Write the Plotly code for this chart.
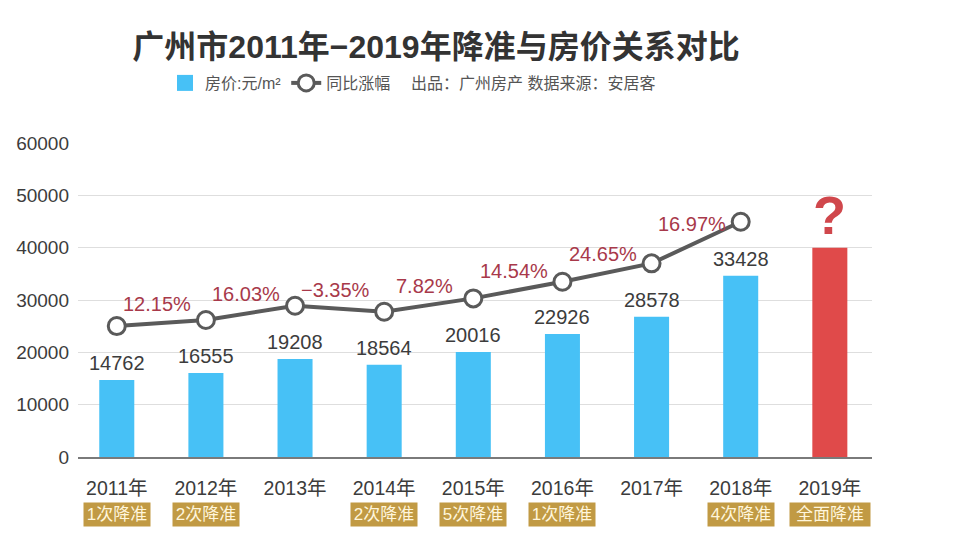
import plotly.graph_objects as go

# ---- data ----
years = ["2011年", "2012年", "2013年", "2014年", "2015年", "2016年", "2017年", "2018年", "2019年"]
bar_height = [14710, 16050, 18720, 17630, 20060, 23500, 26800, 34630, 39980]
bar_label = ["14762", "16555", "19208", "18564", "20016", "22926", "28578", "33428", "?"]
line_level = [25020, 26170, 28900, 27760, 30310, 33490, 37000, 44950]
growth_label = ["12.15%", "16.03%", "−3.35%", "7.82%", "14.54%", "24.65%", "16.97%"]
rrr_label = ["1次降准", "2次降准", "", "2次降准", "5次降准", "1次降准", "", "4次降准", "全面降准"]
y_ticks = [0, 10000, 20000, 30000, 40000, 50000, 60000]

BLUE = "#47c1f6"
RED = "#e04a4a"
LINE = "#5a5a5a"
PCT = "#a8394a"
GOLD = "#c19a44"
FONT = "Liberation Sans, Arial, Noto Sans CJK SC, sans-serif"

# page body adds an 8px margin; figure is sized so it fills the window exactly
OFF = 8
W, H = 956 - OFF, 544 - OFF
ML, MR, MT, MB = 78 - OFF, 84, 143 - OFF, 87


def cx(px):
    return (px - OFF) / W


def cy(py):
    return 1 - (py - OFF) / H


colors = [BLUE] * (len(years) - 1) + [RED]

fig = go.Figure()
fig.add_trace(go.Bar(
    x=years, y=bar_height, name="房价:元/m²", showlegend=False,
    marker=dict(color=colors, line=dict(width=0)),
    width=0.393, hoverinfo="skip",
))
# legend entry for the bars (larger square swatch, no data)
fig.add_trace(go.Scatter(
    x=[None], y=[None], name="房价:元/m²", mode="markers",
    marker=dict(symbol="square", size=16, color=BLUE),
))
fig.add_trace(go.Scatter(
    x=years[:len(line_level)], y=line_level, name="同比涨幅",
    mode="lines+markers",
    line=dict(color=LINE, width=4),
    marker=dict(symbol="circle", size=17, color="white", line=dict(color=LINE, width=3)),
    hoverinfo="skip",
))

annotations = []
# bar value labels
for i, (v, t) in enumerate(zip(bar_height, bar_label)):
    if t == "?":
        annotations.append(dict(x=i, y=v, xref="x", yref="y", text="<b>?</b>", showarrow=False,
                                yanchor="bottom", yshift=1,
                                font=dict(family=FONT, size=54, color="#d0474c")))
    else:
        annotations.append(dict(x=i, y=v, xref="x", yref="y", text=t, showarrow=False,
                                yanchor="bottom", yshift=4,
                                font=dict(family=FONT, size=20, color="#3c3c3c")))
# growth labels between points
for i, t in enumerate(growth_label):
    ymid = (line_level[i] + line_level[i + 1]) / 2
    annotations.append(dict(x=i + 0.5, y=ymid, xref="x", yref="y", text=t, showarrow=False,
                            yanchor="middle", yshift=19, xshift=-4,
                            font=dict(family=FONT, size=20, color=PCT)))
# RRR boxes under axis
for i, t in enumerate(rrr_label):
    if not t:
        continue
    annotations.append(dict(x=i, y=0, xref="x", yref="paper", text=t, showarrow=False,
                            yanchor="middle", yshift=-57,
                            bgcolor=GOLD, borderpad=2,
                            width=76 if not t[0].isdigit() else 62,
                            font=dict(family=FONT, size=17, color="#fff6dc")))
# attribution (paper coordinates computed from pixel position)
pw, ph = W - ML - MR, H - MT - MB
annotations.append(dict(x=(409 - OFF - ML) / pw, y=(H - (83 - OFF) - MB) / ph,
                        xref="paper", yref="paper",
                        text="出品：广州房产 数据来源：安居客", showarrow=False,
                        xanchor="left", yanchor="middle",
                        font=dict(family=FONT, size=16, color="#555555")))

fig.update_layout(
    width=W, height=H,
    margin=dict(l=ML, r=MR, t=MT, b=MB, autoexpand=False),
    paper_bgcolor="white", plot_bgcolor="white",
    title=dict(text="广州市2011年−2019年降准与房价关系对比",
               x=cx(436), xref="container", xanchor="center",
               y=cy(47), yref="container", yanchor="middle",
               font=dict(family=FONT, size=32, color="#333333", weight="bold")),
    legend=dict(orientation="h", xref="container", yref="container",
                x=cx(165), xanchor="left", y=cy(83), yanchor="middle",
                font=dict(family=FONT, size=16, color="#555555"),
                bgcolor="rgba(0,0,0,0)", itemclick=False),
    bargap=0.6,
    annotations=annotations,
    showlegend=True,
)
fig.update_xaxes(type="category", range=[-0.435, 8.473], showgrid=False,
                 showline=True, linecolor="#7a7a7a", linewidth=1.5,
                 ticks="", ticklabelstandoff=13,
                 tickfont=dict(family=FONT, size=19.5, color="#3c3c3c"))
fig.update_yaxes(range=[0, 60000], tickvals=y_ticks, tickformat="d", showgrid=True,
                 gridcolor="#dedede", gridwidth=1, zeroline=False,
                 ticks="", ticklabelstandoff=8,
                 tickfont=dict(family=FONT, size=19, color="#3c3c3c"))

fig.write_html("out.html")
